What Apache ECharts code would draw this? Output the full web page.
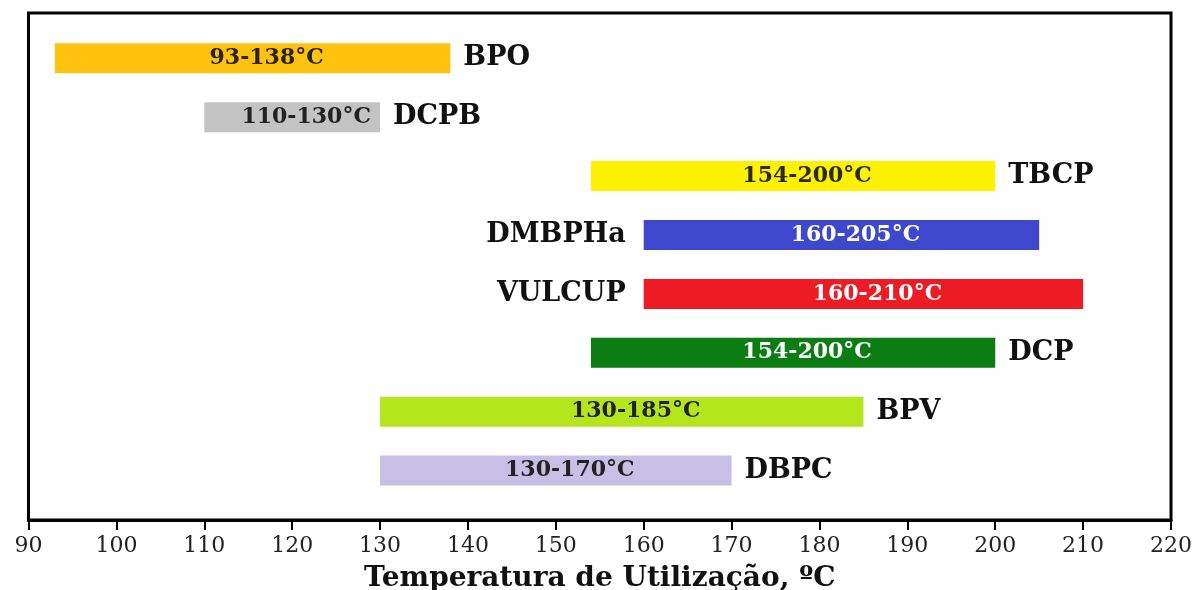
<!DOCTYPE html>
<html>
<head>
<meta charset="utf-8">
<script src="https://cdn.jsdelivr.net/npm/echarts@6/dist/echarts.min.js"></script>
<style>
html,body{margin:0;padding:0;background:#fff;}
#chart{width:1196px;height:590px;}
</style>
</head>
<body>
<div id="chart"></div>
<script>
const categories = ['BPO', 'DCPB', 'TBCP', 'DMBPHa', 'VULCUP', 'DCP', 'BPV', 'DBPC'];
const startTemps = [93, 110, 154, 160, 160, 154, 130, 130];
const endTemps = [138, 130, 200, 205, 210, 200, 185, 170];
const barColors = ['#FFC20E', '#C3C3C3', '#FFF200', '#3F48CC', '#ED1C24', '#0B7D12', '#B5E61D', '#C8BFE7'];
const rangeLabelColors = ['#2a2212', '#222222', '#2a2a10', '#ffffff', '#ffffff', '#ffffff', '#222222', '#222222'];
const nameSides = ['right', 'right', 'right', 'left', 'left', 'right', 'right', 'right'];
const xTickMin = 90, xTickMax = 220, xTickStep = 10;
const axisTitle = 'Temperatura de Utilização, ºC';

const FONT = '"DejaVu Serif", "Liberation Serif", serif';
const data = categories.map((c, i) => [i, startTemps[i], endTemps[i]]);

const chart = echarts.init(document.getElementById('chart'), null, {renderer: 'canvas'});
chart.setOption({
  animation: false,
  backgroundColor: '#ffffff',
  grid: {
    left: 28.5, right: 25, top: 13, bottom: 70,
    containLabel: false, outerBoundsMode: 'none',
    show: true, borderColor: '#000', borderWidth: 3, backgroundColor: 'transparent'
  },
  xAxis: {
    type: 'value', min: xTickMin, max: xTickMax, interval: xTickStep,
    axisLine: {show: true, onZero: false, lineStyle: {color: '#000', width: 3}},
    axisTick: {show: true, length: 10, lineStyle: {color: '#000', width: 2}},
    splitLine: {show: false},
    axisLabel: {color: '#222', fontFamily: FONT, fontSize: 22, margin: 15},
    name: axisTitle, nameLocation: 'middle', nameGap: 45,
    nameTextStyle: {color: '#111', fontFamily: FONT, fontSize: 28, fontWeight: 'bold'}
  },
  yAxis: {
    type: 'value', inverse: true, min: -0.77, max: 7.84,
    show: false, splitLine: {show: false}
  },
  series: [{
    type: 'custom',
    data: data,
    encode: {x: [1, 2], y: 0},
    renderItem: function (params, api) {
      const i = api.value(0);
      const p0 = api.coord([api.value(1), i]);
      const p1 = api.coord([api.value(2), i]);
      const h = 30;
      const side = nameSides[i];
      return {
        type: 'group',
        children: [{
          type: 'rect',
          shape: {x: p0[0], y: p0[1] - h / 2, width: p1[0] - p0[0], height: h},
          style: {fill: barColors[i]},
          textContent: {
            style: {
              text: api.value(1) + '-' + api.value(2) + '°C',
              fill: rangeLabelColors[i], font: 'bold 22px ' + FONT
            }
          },
          textConfig: {position: 'inside', offset: [14, 0]}
        }, {
          type: 'text',
          x: side === 'right' ? p1[0] + 13 : p0[0] - 18,
          y: p0[1],
          style: {
            text: categories[i], fill: '#111', font: 'bold 27px ' + FONT,
            align: side === 'right' ? 'left' : 'right', verticalAlign: 'middle'
          }
        }]
      };
    }
  }]
});
</script>
</body>
</html>
